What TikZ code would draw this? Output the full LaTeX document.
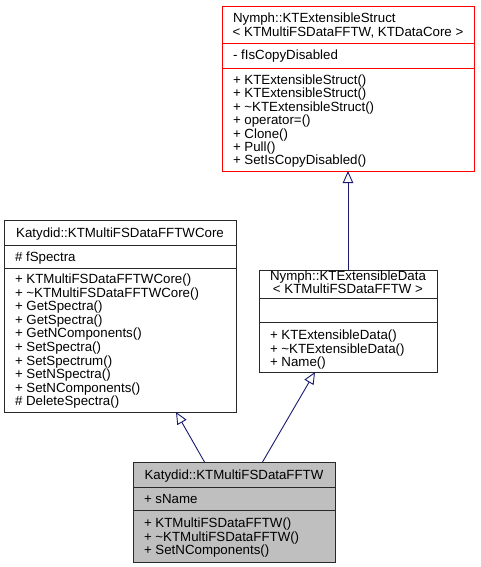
\documentclass[tikz,border=0pt]{standalone}
\usepackage{fontspec}
\setmainfont{Liberation Sans}
\usetikzlibrary{arrows.meta}
\definecolor{mblue}{RGB}{25,25,112}
\definecolor{boxgray}{RGB}{191,191,191}
\definecolor{boxline}{RGB}{40,40,40}
\begin{document}
\begin{tikzpicture}[x=1pt,y=-1pt,
  cls/.style={draw=boxline, line width=0.9pt, inner sep=0pt, outer sep=0pt, anchor=north west},
  redcls/.style={cls, draw=red},
  divline/.style={draw=boxline, line width=0.9pt},
  reddiv/.style={draw=red, line width=0.9pt},
  txt/.style={inner sep=0pt, outer sep=0pt, anchor=base west, font=\fontsize{13.3}{13.6}\selectfont},
  ttl/.style={inner sep=0pt, outer sep=0pt, anchor=base, font=\fontsize{13.3}{13.6}\selectfont},
  inh/.style={draw=mblue, line width=0.9pt, -{Triangle[open, length=12pt, width=10.5pt]}}]
\fill[white] (0,0) rectangle (480,567);
\useasboundingbox (0,0) rectangle (480,567);

% Box A: KTExtensibleStruct (red)
\node[redcls, minimum width=252pt, minimum height=165pt] (A) at (222,6) {};
\draw[reddiv] (A.west |- 0,43) -- (A.east |- 0,43);
\draw[reddiv] (A.west |- 0,68) -- (A.east |- 0,68);
\node[txt] (a-t1) at (233,23) {Nymph::KTExtensibleStruct};
\node[ttl] (a-t2) at (348,36.5) {< KTMultiFSDataFFTW, KTDataCore >};
\node[txt] (a-a1) at (233,59.6) {- fIsCopyDisabled};
\foreach \t [count=\i] in {{+ KTExtensibleStruct()},{+ KTExtensibleStruct()},{+ \textasciitilde KTExtensibleStruct()},{+ operator=()},{+ Clone()},{+ Pull()},{+ SetIsCopyDisabled()}}
  \node[txt] (a-m\i) at (233,{84.5+(\i-1)*13.4}) {\t};

% Box B: KTMultiFSDataFFTWCore
\node[cls, minimum width=232pt, minimum height=192pt] (B) at (4,220) {};
\draw[divline] (B.west |- 0,245) -- (B.east |- 0,245);
\draw[divline] (B.west |- 0,268) -- (B.east |- 0,268);
\node[ttl] (b-t1) at (120,237.3) {Katydid::KTMultiFSDataFFTWCore};
\node[txt] (b-a1) at (15,261.3) {\# fSpectra};
\foreach \t [count=\i] in {{+ KTMultiFSDataFFTWCore()},{+ \textasciitilde KTMultiFSDataFFTWCore()},{+ GetSpectra()},{+ GetSpectra()},{+ GetNComponents()},{+ SetSpectra()},{+ SetSpectrum()},{+ SetNSpectra()},{+ SetNComponents()},{\# DeleteSpectra()}}
  \node[txt] (b-m\i) at (15,{283.5+(\i-1)*13.6}) {\t};

% Box C: KTExtensibleData
\node[cls, minimum width=178pt, minimum height=102pt] (C) at (259,270) {};
\draw[divline] (C.west |- 0,298) -- (C.east |- 0,298);
\draw[divline] (C.west |- 0,322) -- (C.east |- 0,322);
\node[ttl] (c-t1) at (348,280.3) {Nymph::KTExtensibleData};
\node[ttl] (c-t2) at (348,293.3) {< KTMultiFSDataFFTW >};
\foreach \t [count=\i] in {{+ KTExtensibleData()},{+ \textasciitilde KTExtensibleData()},{+ Name()}}
  \node[txt] (c-m\i) at (270,{339.5+(\i-1)*13.5}) {\t};

% Box D: KTMultiFSDataFFTW (gray)
\node[cls, fill=boxgray, minimum width=202pt, minimum height=100pt] (D) at (133,462) {};
\draw[divline] (D.west |- 0,487) -- (D.east |- 0,487);
\draw[divline] (D.west |- 0,510) -- (D.east |- 0,510);
\node[ttl] (d-t1) at (234,479.5) {Katydid::KTMultiFSDataFFTW};
\node[txt] (d-a1) at (144,503.5) {+ sName};
\foreach \t [count=\i] in {{+ KTMultiFSDataFFTW()},{+ \textasciitilde KTMultiFSDataFFTW()},{+ SetNComponents()}}
  \node[txt] (d-m\i) at (144,{527.5+(\i-1)*13.5}) {\t};

% Inheritance connectors
\draw[inh] (C.north) -- (A.south);
\draw[inh] (204.5,0 |- D.north) -- (176,0 |- B.south);
\draw[inh] (262.5,0 |- D.north) -- (315,0 |- C.south);
\end{tikzpicture}
\end{document}
